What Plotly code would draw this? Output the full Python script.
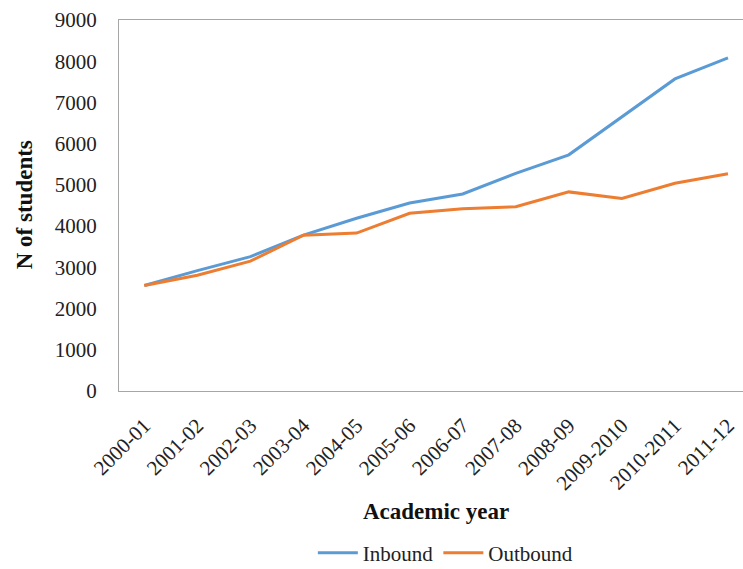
import plotly.graph_objects as go

years = ["2000-01", "2001-02", "2002-03", "2003-04", "2004-05", "2005-06",
         "2006-07", "2007-08", "2008-09", "2009-2010", "2010-2011", "2011-12"]
inbound = [2560, 2920, 3260, 3780, 4190, 4560, 4780, 5280, 5730, 6640, 7570, 8080]
outbound = [2560, 2810, 3150, 3780, 3830, 4310, 4420, 4470, 4830, 4670, 5040, 5270]
y_ticks = [0, 1000, 2000, 3000, 4000, 5000, 6000, 7000, 8000, 9000]

FONT = "Liberation Serif, Times New Roman, serif"
idx = list(range(len(years)))

fig = go.Figure()
fig.add_trace(go.Scatter(x=idx, y=inbound, mode="lines", name="Inbound",
                         line=dict(color="#5B9BD5", width=3)))
fig.add_trace(go.Scatter(x=idx, y=outbound, mode="lines", name="Outbound",
                         line=dict(color="#ED7D31", width=3)))

fig.update_layout(
    width=743, height=569,
    margin=dict(l=119, r=0, t=20, b=178, autoexpand=False),
    paper_bgcolor="white", plot_bgcolor="white",
    font=dict(family=FONT, size=21, color="#222222"),
    showlegend=True,
    legend=dict(orientation="h", xref="paper", yref="paper",
                x=0.523, xanchor="center", y=-0.437, yanchor="middle",
                bgcolor="rgba(0,0,0,0)",
                font=dict(family=FONT, size=21, color="#222222"),
                itemwidth=40, tracegroupgap=0),
    xaxis=dict(range=[-0.477, 11.283], tickmode="array", tickvals=idx, ticktext=years,
               tickangle=-45, showgrid=False, zeroline=False, automargin=False,
               showline=True, linecolor="#A6A6A6", linewidth=1, mirror=True,
               ticks="", ticklabelstandoff=13,
               tickfont=dict(family=FONT, size=21, color="#222222")),
    yaxis=dict(range=[0, 9000], tickmode="array", tickvals=y_ticks,
               ticktext=[str(v) for v in y_ticks], automargin=False,
               showgrid=False, zeroline=False,
               showline=True, linecolor="#A6A6A6", linewidth=1,
               ticks="", ticklabelstandoff=17,
               tickfont=dict(family=FONT, size=21, color="#222222")),
    annotations=[
        dict(text="<b>Academic year</b>", xref="paper", yref="paper",
             x=0.508, y=-0.326, xanchor="center", yanchor="middle", showarrow=False,
             font=dict(family=FONT, size=23, color="#111111")),
        dict(text="<b>N of students</b>", xref="paper", yref="paper",
             x=-0.152, y=0.501, xanchor="center", yanchor="middle", showarrow=False,
             textangle=-90, font=dict(family=FONT, size=23, color="#111111")),
    ],
)

fig.write_html("out.html")
